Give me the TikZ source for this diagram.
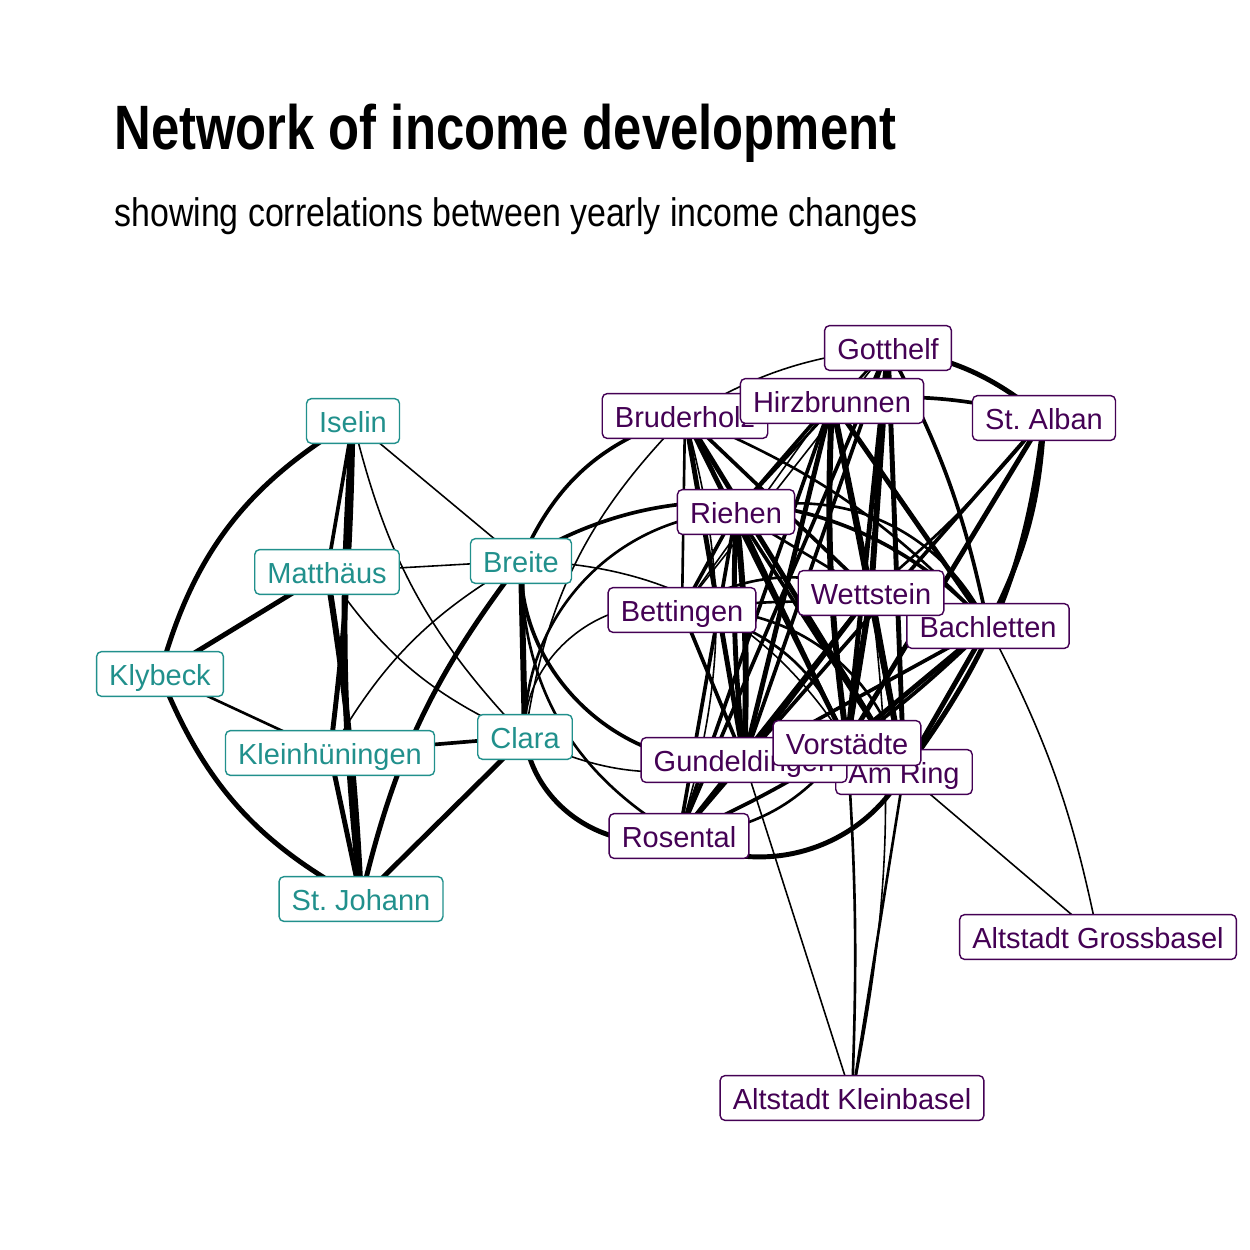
\documentclass[tikz,border=0pt]{standalone}
\usepackage{fontspec}
\setmainfont{Liberation Sans}
\newfontfamily\titlefont[FakeStretch=0.81]{Liberation Sans}
\newfontfamily\subtitlefont[FakeStretch=0.85]{Liberation Sans}
\usepackage{xcolor}
\usepackage{tikz}
\usetikzlibrary{backgrounds}
\definecolor{vgreen}{HTML}{21908C}
\definecolor{vpurple}{HTML}{440154}
\frenchspacing

\begin{document}
\begin{tikzpicture}[
    x=0.02cm, y=-0.02cm,
    citybox/.style={rectangle, rounded corners=2.8pt, fill=white, line width=0.8pt, font=\fontsize{16.5}{18}\selectfont, inner xsep=7.2pt, inner ysep=3.5pt, text height=15.9pt, text depth=2.6pt},
    groupone/.style={citybox, draw=vgreen, text=vgreen},
    grouptwo/.style={citybox, draw=vpurple, text=vpurple},
    wthin/.style={line width=0.9pt},
    wmid/.style={line width=1.5pt},
    wthick/.style={line width=2.1pt},
    wheavy/.style={line width=2.8pt},
    wmax/.style={line width=3.4pt}
]
\useasboundingbox (0,0) rectangle (1250,1250);

% Title
\node[anchor=base west, inner sep=0, font=\titlefont\bfseries\fontsize{35.7}{40}\selectfont] (title) at (114,150) {Network of income development};
\node[anchor=base west, inner sep=0, font=\subtitlefont\fontsize{22.7}{26}\selectfont] (subtitle) at (114,227) {showing correlations between yearly income changes};

% West group
\node[groupone] (iselin) at (353,421) {Iselin};
\node[groupone] (matthaeus) at (327,572) {Matthäus};
\node[groupone] (breite) at (521,561) {Breite};
\node[groupone] (klybeck) at (160,674) {Klybeck};
\node[groupone] (kleinh) at (330,753) {Kleinhüningen};
\node[groupone] (clara) at (525,737) {Clara};
\node[groupone] (stjohann) at (361,899) {St. Johann};

% East group
\node[grouptwo] (gotthelf) at (888,348) {Gotthelf};
\node[grouptwo] (bruder) at (685,416) {Bruderholz};
\node[grouptwo] (hirz) at (832,401) {Hirzbrunnen};
\node[grouptwo] (stalban) at (1044,418) {St. Alban};
\node[grouptwo] (riehen) at (736,512) {Riehen};
\node[grouptwo] (bach) at (988,626) {Bachletten};
\node[grouptwo] (wett) at (871,593) {Wettstein};
\node[grouptwo] (betting) at (682,610) {Bettingen};
\node[grouptwo] (amring) at (904,772) {Am Ring};
\node[grouptwo] (gundel) at (744,760) {Gundeldingen};
\node[grouptwo] (vorst) at (847,743) {Vorstädte};
\node[grouptwo] (rosental) at (679,836) {Rosental};
\node[grouptwo] (altgross) at (1098,937) {Altstadt Grossbasel};
\node[grouptwo] (altklein) at (852,1098) {Altstadt Kleinbasel};

\begin{scope}[on background layer]
% West edges
\draw[wheavy] (iselin.center) to[bend right=22] (klybeck.center);
\draw[wmax] (iselin.center) to[bend right=5] (stjohann.center);
\draw[wheavy] (iselin.center) to[bend left=3] (kleinh.center);
\draw[wthick] (iselin.center) -- (matthaeus.center);
\draw[wmax] (matthaeus.center) to[bend left=3] (stjohann.center);
\draw[wheavy] (kleinh.center) -- (stjohann.center);
\draw[wthin] (iselin.center) -- (breite.center);
\draw[wthin] (iselin.center) to[bend right=15] (clara.center);
\draw[wheavy] (matthaeus.center) -- (klybeck.center);
\draw[wthin] (matthaeus.center) -- (breite.center);
\draw[wthin] (matthaeus.center) to[bend right=16] (clara.center);
\draw[wmid] (klybeck.center) -- (kleinh.center);
\draw[wheavy] (klybeck.center) to[bend right=20] (stjohann.center);
\draw[wthin] (kleinh.center) to[bend left=15] (breite.center);
\draw[wthick] (kleinh.center) -- (clara.center);
\draw[wmax] (breite.center) -- (clara.center);
\draw[wheavy] (breite.center) to[bend right=12] (stjohann.center);
\draw[wheavy] (clara.center) -- (stjohann.center);

% Between the groups
\draw[wthick] (breite.center) to[bend left=25] (bruder.center);
\draw[wthick] (breite.center) to[bend left=40] (bach.center);
\draw[wthin] (breite.center) to[bend left=28] (vorst.center);
\draw[wthick] (breite.center) to[bend right=50] (gundel.center);
\draw[wmid] (breite.center) to[bend right=30] (rosental.center);
\draw[wheavy] (clara.center) to[bend right=50] (rosental.center);
\draw[wthin] (clara.center) to[bend right=20] (gundel.center);
\draw[wmid] (clara.center) to[bend left=45] (riehen.center);
\draw[wthin] (clara.center) to[bend left=55] (betting.center);
\draw[wthin] (bruder.center) to[bend right=18] (clara.center);

% East edges
\draw[wheavy] (gotthelf.center) to[bend left=15] (stalban.center);
\draw[wthin] (gotthelf.center) to[bend right=12] (bruder.center);
\draw[wmax] (gotthelf.center) -- (wett.center);
\draw[wheavy] (gotthelf.center) -- (vorst.center);
\draw[wheavy] (gotthelf.center) -- (amring.center);
\draw[wthick] (gotthelf.center) -- (gundel.center);
\draw[wthick] (gotthelf.center) -- (rosental.center);
\draw[wmid] (gotthelf.center) -- (riehen.center);
\draw[wthick] (gotthelf.center) to[bend left=8] (bach.center);
\draw[wthin] (gotthelf.center) -- (betting.center);
\draw[wthick] (hirz.center) to[bend left=10] (stalban.center);
\draw[wheavy] (hirz.center) -- (bach.center);
\draw[wmax] (hirz.center) -- (wett.center);
\draw[wmax] (hirz.center) to[bend right=5] (vorst.center);
\draw[wheavy] (hirz.center) -- (amring.center);
\draw[wheavy] (hirz.center) -- (gundel.center);
\draw[wthick] (hirz.center) -- (rosental.center);
\draw[wthick] (hirz.center) -- (riehen.center);
\draw[wthin] (hirz.center) -- (betting.center);
\draw[wheavy] (stalban.center) to[bend left=12] (bach.center);
\draw[wheavy] (stalban.center) to[bend left=15] (amring.center);
\draw[wheavy] (stalban.center) -- (vorst.center);
\draw[wthick] (stalban.center) -- (gundel.center);
\draw[wmid] (stalban.center) to[bend left=5] (wett.center);
\draw[wheavy] (bruder.center) -- (amring.center);
\draw[wheavy] (bruder.center) -- (vorst.center);
\draw[wthick] (bruder.center) -- (wett.center);
\draw[wmid] (bruder.center) to[bend left=12] (bach.center);
\draw[wmid] (bruder.center) -- (betting.center);
\draw[wthin] (bruder.center) to[bend left=16] (rosental.center);
\draw[wheavy] (bruder.center) -- (gundel.center);
\draw[wmax] (riehen.center) to[bend left=4] (gundel.center);
\draw[wheavy] (riehen.center) to[bend right=4] (gundel.center);
\draw[wthick] (riehen.center) -- (rosental.center);
\draw[wmid] (riehen.center) -- (wett.center);
\draw[wmid] (riehen.center) to[bend left=40] (bach.center);
\draw[wthick] (riehen.center) -- (vorst.center);
\draw[wthick] (riehen.center) -- (amring.center);
\draw[wthick] (riehen.center) -- (betting.center);
\draw[wmid] (betting.center) to[bend left=25] (wett.center);
\draw[wmid] (betting.center) to[bend left=40] (amring.center);
\draw[wmid] (betting.center) to[bend left=30] (vorst.center);
\draw[wthick] (betting.center) -- (gundel.center);
\draw[wmid] (betting.center) to[bend left=10] (bach.center);
\draw[wheavy] (wett.center) -- (gundel.center);
\draw[wthick] (wett.center) -- (rosental.center);
\draw[wmax] (wett.center) -- (vorst.center);
\draw[wmax] (wett.center) -- (amring.center);
\draw[wthin] (wett.center) to[bend left=9] (altklein.center);
\draw[wmid] (wett.center) -- (bach.center);
\draw[wheavy] (bach.center) -- (vorst.center);
\draw[wheavy] (bach.center) -- (amring.center);
\draw[wthick] (bach.center) -- (gundel.center);
\draw[wthick] (bach.center) to[bend left=10] (rosental.center);
\draw[wthin] (bach.center) to[bend left=8] (altgross.center);
\draw[wthin] (gundel.center) -- (altklein.center);
\draw[wheavy] (gundel.center) -- (rosental.center);
\draw[wthick] (gundel.center) -- (vorst.center);
\draw[wthick] (gundel.center) -- (amring.center);
\draw[wthick] (vorst.center) -- (amring.center);
\draw[wmid] (vorst.center) to[bend left=3] (altklein.center);
\draw[wmid] (rosental.center) to[bend right=25] (vorst.center);
\draw[wheavy] (rosental.center) to[bend right=45] (amring.center);
\draw[wmid] (amring.center) -- (altklein.center);
\draw[wthin] (amring.center) -- (altgross.center);
\end{scope}

\end{tikzpicture}
\end{document}
